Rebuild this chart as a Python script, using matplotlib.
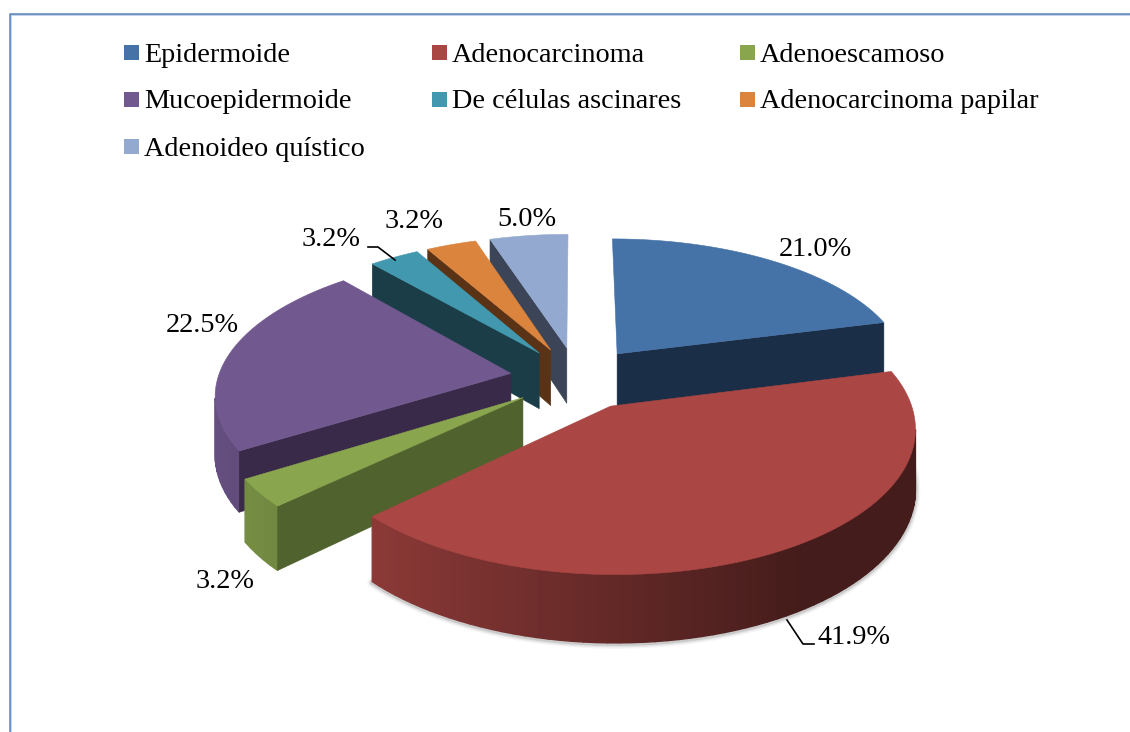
import numpy as np
import matplotlib
matplotlib.use('Agg')
import matplotlib.pyplot as plt
from matplotlib.patches import Polygon, Rectangle
from matplotlib.colors import to_rgb

# data
categories = ['Epidermoide', 'Adenocarcinoma', 'Adenoescamoso', 'Mucoepidermoide',
              'De células ascinares', 'Adenocarcinoma papilar', 'Adenoideo quístico']
values = [21.0, 41.9, 3.2, 22.5, 3.2, 3.2, 5.0]
colors = ['#4572A7', '#AA4643', '#89A54E', '#71588F', '#4198AF', '#DB843D', '#93A9CF']
walls = ['#1A2E47', '#5A2422', '#50622D', '#3A2A4A', '#1A3D47', '#5A3316', '#3C4558']

# label centres in pixels
label_pos = [(815, 250), (854, 637), (225, 582), (202, 326), (331, 239), (414, 222), (527, 220)]

plt.rcParams['font.family'] = ['Liberation Serif', 'DejaVu Serif']

# camera
cx, cy = 577, 378
R = 293
k = 0.137
sin_e = 0.467
cos_e = 0.87
depth = 0.224
explode = 0.229


def project(X, Y, z=0.0):
    s = 1 / (1 + k * Y)
    return cx + R * X * s, cy - R * s * (Y * sin_e + z * cos_e)


def area(q):
    x = [p[0] for p in q]
    y = [p[1] for p in q]
    return sum(x[i] * y[(i + 1) % 4] - x[(i + 1) % 4] * y[i] for i in range(4))


def quad(X0, Y0, X1, Y1):
    return [project(X0, Y0), project(X1, Y1), project(X1, Y1, -depth), project(X0, Y0, -depth)]


fig = plt.figure(figsize=(11.3, 7.32), dpi=100)
ax = fig.add_axes([0, 0, 1, 1])
ax.set_xlim(0, 1130)
ax.set_ylim(732, 0)
ax.axis('off')

# frame
ax.plot([11, 11, 1130], [732, 15, 15], color='#B5CBE6', lw=1.2)
ax.plot([10, 10, 1130], [732, 14, 14], color='#5B82B5', lw=1.1)

# build wedges
total = sum(values)
wedges = []
start = 0.0
for i, v in enumerate(values):
    a0 = start / total * 2 * np.pi
    a1 = (start + v) / total * 2 * np.pi
    mid = (a0 + a1) / 2
    ox, oy = explode * np.sin(mid), explode * np.cos(mid)
    wedges.append((project(ox, oy)[1], i, a0, a1, ox, oy))
    start += v

# back to front
for _, i, a0, a1, ox, oy in sorted(wedges):
    th = np.linspace(a0, a1, max(int((a1 - a0) * 30), 6))
    rx = ox + np.sin(th)
    ry = oy + np.cos(th)

    # soft shadow under the rim, red slice only
    if categories[i] == 'Adenocarcinoma':
        pts = [project(a, b, -depth) for a, b in zip(rx, ry)]
        xs = [p[0] for p in pts]
        ys = [p[1] for p in pts]
        for lw, al in [(7, 0.06), (5, 0.10), (3, 0.18)]:
            ax.plot(xs, np.array(ys) + 1, color='#555555', lw=lw, alpha=al, solid_capstyle='round', zorder=1)

    # outer wall, darker to the right
    base = np.array(to_rgb(colors[i]))
    for j in range(len(th) - 1):
        q = quad(rx[j], ry[j], rx[j + 1], ry[j + 1])
        if area(q) < 0:
            f = np.clip(0.58 - 0.33 * np.sin((th[j] + th[j + 1]) / 2), 0.40, 0.9)
            c = base * f
            ax.add_patch(Polygon(q, closed=True, fc=c, ec=c, lw=1.0, joinstyle='miter', zorder=2))

    # the two straight walls, skip the ones seen edge on
    q0 = quad(ox, oy, rx[0], ry[0])
    q1 = quad(ox, oy, rx[-1], ry[-1])
    if area(q0) < -3000:
        ax.add_patch(Polygon(q0, closed=True, fc=walls[i], ec=walls[i], lw=0.4, zorder=2))
    if area(q1) > 3000:
        ax.add_patch(Polygon(q1, closed=True, fc=walls[i], ec=walls[i], lw=0.4, zorder=2))

    # top
    th2 = np.linspace(a0, a1, 200)
    top = [project(ox, oy)] + [project(ox + np.sin(t), oy + np.cos(t)) for t in th2]
    ax.add_patch(Polygon(top, closed=True, fc=colors[i], ec=colors[i], lw=0.4, zorder=2))

# value labels
for v, (x, y) in zip(values, label_pos):
    ax.text(x, y, f'{v:.1f}%', fontsize=20.3, ha='center', va='center', color='black')

# leader lines
ax.plot([368, 378, 395], [247, 247, 260], color='black', lw=1.2)
ax.plot([787, 803, 814], [620, 644, 644], color='black', lw=1.2)

# legend
col_x = [124, 432, 740]
row_y = [53, 100, 147]
for n, name in enumerate(categories):
    x = col_x[n % 3]
    y = row_y[n // 3]
    ax.add_patch(Rectangle((x, y - 8), 15, 15, fc=colors[n], ec='none'))
    ax.text(x + 20, y + 8.5, name, fontsize=20.3, ha='left', va='baseline', color='black')

fig.savefig('out.png', dpi=100)
